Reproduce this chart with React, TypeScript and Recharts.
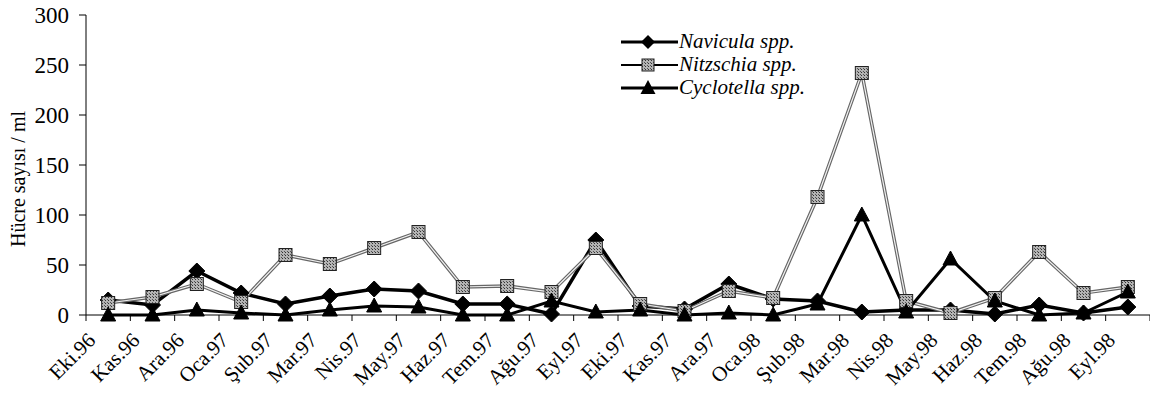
import React from 'react';
import { LineChart, Line, XAxis, YAxis } from 'recharts';

// Monthly samples, Oct 1996 – Sep 1998
const MONTHS = [
  'Eki.96', 'Kas.96', 'Ara.96', 'Oca.97', 'Şub.97', 'Mar.97', 'Nis.97', 'May.97',
  'Haz.97', 'Tem.97', 'Ağu.97', 'Eyl.97', 'Eki.97', 'Kas.97', 'Ara.97', 'Oca.98',
  'Şub.98', 'Mar.98', 'Nis.98', 'May.98', 'Haz.98', 'Tem.98', 'Ağu.98', 'Eyl.98',
];

// cells / ml
const NAVICULA = [15, 10, 44, 22, 11, 19, 26, 24, 11, 11, 1, 75, 9, 6, 31, 16, 14, 3, 5, 5, 1, 10, 2, 8];
const NITZSCHIA = [12, 18, 31, 13, 60, 51, 67, 83, 28, 29, 23, 67, 11, 4, 24, 17, 118, 242, 14, 2, 17, 63, 22, 28];
const CYCLOTELLA = [0, 0, 5, 2, 0, 5, 9, 8, 0, 0, 14, 3, 5, 0, 2, 0, 11, 100, 3, 56, 14, 0, 2, 23];

const Y_TICKS = [0, 50, 100, 150, 200, 250, 300];

const W = 1150;
const H = 403;
const Y_AXIS_W = 86;
const X_AXIS_H = 88;
const TOP = 15;
const BAND = (W - Y_AXIS_W) / MONTHS.length;
const FONT = 'Liberation Serif';

const data = MONTHS.map((m, i) => ({
  idx: i,
  month: m,
  navicula: NAVICULA[i],
  nitzschia: NITZSCHIA[i],
  cyclotella: CYCLOTELLA[i],
}));

// tick marks sit between the months, like a category axis
const BOUNDS = MONTHS.map((_, i) => i - 0.5).concat(MONTHS.length - 0.5);

const monthAt = (v: number) => MONTHS[v + 0.5] ?? '';

const diamond = (cx: number, cy: number, r = 8) =>
  `${cx},${cy - r} ${cx + r},${cy} ${cx},${cy + r} ${cx - r},${cy}`;
const triangle = (cx: number, cy: number) =>
  `${cx},${cy - 8} ${cx + 7.5},${cy + 6} ${cx - 7.5},${cy + 6}`;

const DiamondDot = (p: any) => (
  <polygon key={`nav-${p.index}`} points={diamond(p.cx, p.cy)} fill="#000" stroke="#000" strokeWidth={1} />
);
const SquareDot = (p: any) => (
  <rect key={`nit-${p.index}`} x={p.cx - 6.5} y={p.cy - 6.5} width={13} height={13}
    fill="url(#grain)" stroke="#222" strokeWidth={1} />
);
const TriangleDot = (p: any) => (
  <polygon key={`cyc-${p.index}`} points={triangle(p.cx, p.cy)} fill="#000" stroke="#000" strokeWidth={1} />
);

const YLabel = ({ viewBox }: any) => {
  const x = 25;
  const y = viewBox.y + viewBox.height / 2 + 14;
  return (
    <text x={x} y={y} transform={`rotate(-90, ${x}, ${y})`} textAnchor="middle"
      fontFamily={FONT} fontSize={20} fill="#000">
      Hücre sayısı / ml
    </text>
  );
};

const LEGEND = [
  { name: 'Navicula spp.', marker: 'diamond', y: 42 },
  { name: 'Nitzschia spp.', marker: 'square', y: 65 },
  { name: 'Cyclotella spp.', marker: 'triangle', y: 88 },
];

const Legend = () => (
  <svg width={W} height={H} style={{ position: 'absolute', left: 0, top: 0, pointerEvents: 'none' }}>
    {LEGEND.map((s) => (
      <g key={s.name}>
        <line x1={621} x2={678} y1={s.y} y2={s.y} stroke="#000"
          strokeWidth={s.marker === 'square' ? 2 : 3} />
        {s.marker === 'diamond' && <polygon points={diamond(648, s.y, 7)} fill="#000" />}
        {s.marker === 'square' && (
          <rect x={642} y={s.y - 6} width={12} height={12} fill="url(#grain)" stroke="#222" />
        )}
        {s.marker === 'triangle' && <polygon points={triangle(648, s.y)} fill="#000" />}
        <text x={679} y={s.y + 6} fontFamily={FONT} fontStyle="italic" fontSize={21} fill="#000">
          {s.name}
        </text>
      </g>
    ))}
  </svg>
);

export default function App() {
  return (
    <div style={{ position: 'absolute', left: 0, top: 0, width: W, height: H, background: '#fff' }}>
      <svg width={0} height={0} style={{ position: 'absolute' }}>
        <defs>
          <pattern id="grain" width={3} height={3} patternUnits="userSpaceOnUse">
            <rect width={3} height={3} fill="#b4b4b4" />
            <rect width={1} height={1} fill="#333" />
            <rect x={2} y={2} width={1} height={1} fill="#555" />
          </pattern>
        </defs>
      </svg>
      <LineChart width={W} height={H} data={data} margin={{ top: TOP, right: 0, left: 0, bottom: 0 }}>
        <XAxis
          dataKey="idx"
          type="number"
          domain={[-0.5, MONTHS.length - 0.5]}
          ticks={BOUNDS}
          interval={0}
          height={X_AXIS_H}
          tickSize={6}
          tickFormatter={monthAt}
          angle={-45}
          textAnchor="end"
          dx={BAND / 2 - 22}
          dy={8}
          tick={{ fontFamily: FONT, fontSize: 21, fill: '#000' }}
          axisLine={{ stroke: '#000' }}
          tickLine={{ stroke: '#000' }}
        />
        <YAxis
          domain={[0, 300]}
          ticks={Y_TICKS}
          interval={0}
          width={Y_AXIS_W}
          tickSize={7}
          tickMargin={10}
          axisLine={{ stroke: '#000' }}
          tickLine={{ stroke: '#000' }}
          tick={{ fontFamily: FONT, fontSize: 23, fill: '#000' }}
          label={<YLabel />}
        />
        <Line type="linear" dataKey="navicula" stroke="#000" strokeWidth={3.5}
          dot={DiamondDot} activeDot={false} isAnimationActive={false} />
        <Line type="linear" dataKey="nitzschia" stroke="#666" strokeWidth={3.5}
          dot={false} activeDot={false} isAnimationActive={false} />
        <Line type="linear" dataKey="nitzschia" stroke="#f2f2f2" strokeWidth={1.2}
          dot={SquareDot} activeDot={false} isAnimationActive={false} />
        <Line type="linear" dataKey="cyclotella" stroke="#000" strokeWidth={3}
          dot={TriangleDot} activeDot={false} isAnimationActive={false} />
      </LineChart>
      <Legend />
    </div>
  );
}
